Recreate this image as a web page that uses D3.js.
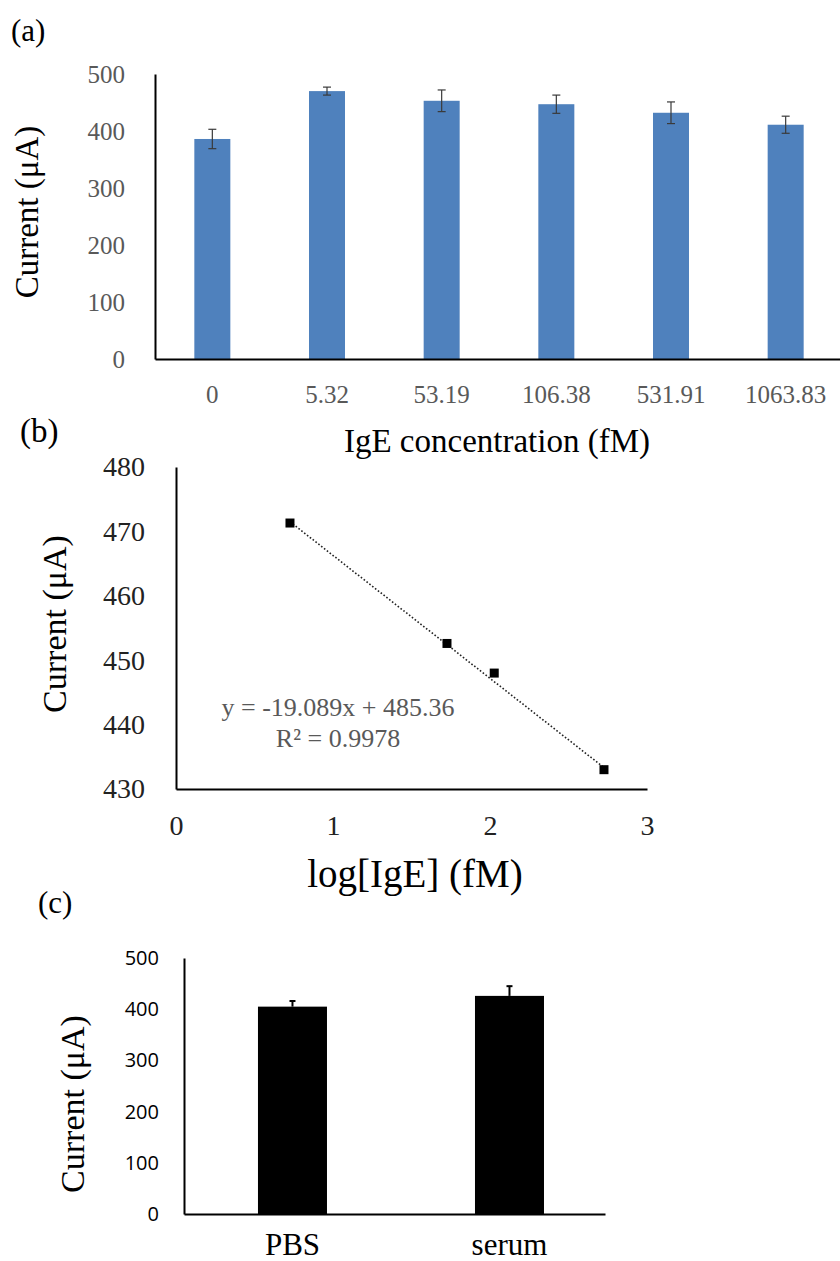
<!DOCTYPE html>
<html>
<head>
<meta charset="utf-8">
<script src="https://cdn.jsdelivr.net/npm/d3@7"></script>
<style>
  body { margin: 0; background: #fff; }
  svg text { font-family: "Liberation Serif", "Times New Roman", serif; }
  svg text.sans { font-family: "Open Sans", "DejaVu Sans", sans-serif; }
</style>
</head>
<body>
<svg id="fig" width="840" height="1261"></svg>
<script>
// (a) current vs IgE concentration
const concLabels = ["0", "5.32", "53.19", "106.38", "531.91", "1063.83"];
const concCurrent = [386, 470, 453, 447, 432, 411];
const concError = [17, 7, 19, 16, 19, 15];
const concTicks = [0, 100, 200, 300, 400, 500];

// (b) calibration, log scale
const logConc = [0.726, 1.726, 2.027, 2.726];
const logCurrent = [471.3, 452.6, 448.0, 433.0];
const fitSlope = -19.089;
const fitIntercept = 485.36;
const logXTicks = [0, 1, 2, 3];
const logYTicks = [430, 440, 450, 460, 470, 480];

// (c) PBS vs serum
const sampleLabels = ["PBS", "serum"];
const sampleCurrent = [405, 426];
const sampleError = [11, 19];
const sampleTicks = [0, 100, 200, 300, 400, 500];

const SERIF = '"Liberation Serif", "Times New Roman", serif';
const svg = d3.select("#fig");

function styleAxis(g, size, color, family) {
  g.attr("font-family", null);
  g.selectAll("text").attr("font-size", size).attr("fill", color)
    .style("font-family", family || SERIF);
  g.select(".domain").attr("stroke", "#000").attr("stroke-width", 2);
}

// ---------- panel a ----------
const xa = d3.scaleBand().domain(concLabels).range([155, 843])
  .paddingInner(0.686).paddingOuter(0.343);
const ya = d3.scaleLinear().domain([0, 500]).range([359, 74]);

const ga = svg.append("g");
ga.append("text").attr("x", 11).attr("y", 41).attr("font-size", 31).text("(a)");

ga.append("g").attr("transform", "translate(155,0)")
  .call(d3.axisLeft(ya).tickValues(concTicks).tickSize(0).tickPadding(30))
  .call(g => styleAxis(g, 25, "#595959"));

ga.selectAll("rect.bar").data(concCurrent).join("rect")
  .attr("class", "bar")
  .attr("x", (d, i) => xa(concLabels[i]))
  .attr("width", xa.bandwidth())
  .attr("y", d => ya(d))
  .attr("height", d => ya(0) - ya(d))
  .attr("fill", "#4f81bd");

const errA = ga.selectAll("g.err").data(concCurrent).join("g").attr("class", "err")
  .attr("stroke", "#3a3a3a").attr("stroke-width", 1.2);
errA.append("line")
  .attr("x1", (d, i) => xa(concLabels[i]) + xa.bandwidth() / 2)
  .attr("x2", (d, i) => xa(concLabels[i]) + xa.bandwidth() / 2)
  .attr("y1", (d, i) => ya(d + concError[i]))
  .attr("y2", (d, i) => ya(d - concError[i]));
[1, -1].forEach(s => {
  errA.append("line")
    .attr("x1", (d, i) => xa(concLabels[i]) + xa.bandwidth() / 2 - 4)
    .attr("x2", (d, i) => xa(concLabels[i]) + xa.bandwidth() / 2 + 4)
    .attr("y1", (d, i) => ya(d + s * concError[i]))
    .attr("y2", (d, i) => ya(d + s * concError[i]));
});

ga.append("g").attr("transform", "translate(0,359)")
  .call(d3.axisBottom(xa).tickSize(0).tickPadding(26))
  .call(g => styleAxis(g, 25, "#595959"));

ga.append("text").attr("transform", "translate(38,212) rotate(-90)")
  .attr("text-anchor", "middle").attr("font-size", 33).text("Current (μA)");
ga.append("text").attr("x", 497).attr("y", 452)
  .attr("text-anchor", "middle").attr("font-size", 33).text("IgE concentration (fM)");

// ---------- panel b ----------
const xb = d3.scaleLinear().domain([0, 3]).range([176, 647]);
const yb = d3.scaleLinear().domain([430, 480]).range([789, 467]);

const gb = svg.append("g");
gb.append("text").attr("x", 20).attr("y", 442).attr("font-size", 33).text("(b)");

gb.append("g").attr("transform", "translate(176,0)")
  .call(d3.axisLeft(yb).tickValues(logYTicks).tickSize(0).tickPadding(31))
  .call(g => styleAxis(g, 28, "#222"));
gb.append("g").attr("transform", "translate(0,789)")
  .call(d3.axisBottom(xb).tickValues(logXTicks).tickFormat(d3.format("d")).tickSize(0).tickPadding(26))
  .call(g => styleAxis(g, 28, "#222"));

// Excel linear trendline over the data range
const fitX = d3.extent(logConc);
gb.append("path")
  .datum(fitX)
  .attr("fill", "none").attr("stroke", "#222").attr("stroke-width", 1.6)
  .attr("stroke-dasharray", "1.6,2")
  .attr("d", d3.line().x(d => xb(d)).y(d => yb(fitSlope * d + fitIntercept)));

gb.selectAll("rect.pt").data(logConc).join("rect")
  .attr("class", "pt")
  .attr("x", d => xb(d) - 4.5)
  .attr("y", (d, i) => yb(logCurrent[i]) - 4.5)
  .attr("width", 9).attr("height", 9).attr("fill", "#000");

gb.append("text").attr("x", 338).attr("y", 716).attr("text-anchor", "middle")
  .attr("font-size", 26).attr("fill", "#595959")
  .text("y = " + fitSlope + "x + " + fitIntercept);
gb.append("text").attr("x", 338).attr("y", 747).attr("text-anchor", "middle")
  .attr("font-size", 26).attr("fill", "#595959").text("R² = 0.9978");

gb.append("text").attr("transform", "translate(66,624) rotate(-90)")
  .attr("text-anchor", "middle").attr("font-size", 34).text("Current (μA)");
gb.append("text").attr("x", 415).attr("y", 887)
  .attr("text-anchor", "middle").attr("font-size", 39).text("log[IgE] (fM)");

// ---------- panel c ----------
const xc = d3.scaleBand().domain(sampleLabels).range([184, 605])
  .paddingInner(0.682).paddingOuter(0.311).align(0.548);
const yc = d3.scaleLinear().domain([0, 500]).range([1214, 958]);

const gc = svg.append("g");
gc.append("text").attr("x", 38).attr("y", 913).attr("font-size", 31).text("(c)");

gc.append("g").attr("transform", "translate(184,0)")
  .call(d3.axisLeft(yc).tickValues(sampleTicks).tickSize(0).tickPadding(25))
  .call(g => styleAxis(g, 20, "#000", '"Open Sans", "DejaVu Sans", sans-serif'));

gc.selectAll("rect.bar").data(sampleCurrent).join("rect")
  .attr("class", "bar")
  .attr("x", (d, i) => xc(sampleLabels[i]))
  .attr("width", xc.bandwidth())
  .attr("y", d => yc(d))
  .attr("height", d => yc(0) - yc(d))
  .attr("fill", "#000");

const errC = gc.selectAll("g.err").data(sampleCurrent).join("g").attr("class", "err")
  .attr("stroke", "#000").attr("stroke-width", 2);
errC.append("line")
  .attr("x1", (d, i) => xc(sampleLabels[i]) + xc.bandwidth() / 2)
  .attr("x2", (d, i) => xc(sampleLabels[i]) + xc.bandwidth() / 2)
  .attr("y1", (d, i) => yc(d + sampleError[i]))
  .attr("y2", d => yc(d));
errC.append("line")
  .attr("x1", (d, i) => xc(sampleLabels[i]) + xc.bandwidth() / 2 - 3)
  .attr("x2", (d, i) => xc(sampleLabels[i]) + xc.bandwidth() / 2 + 3)
  .attr("y1", (d, i) => yc(d + sampleError[i]))
  .attr("y2", (d, i) => yc(d + sampleError[i]));

gc.append("g").attr("transform", "translate(0,1214)")
  .call(d3.axisBottom(xc).tickSize(0).tickPadding(19))
  .call(g => styleAxis(g, 31, "#000"));

gc.append("text").attr("transform", "translate(84,1104) rotate(-90)")
  .attr("text-anchor", "middle").attr("font-size", 34).text("Current (μA)");
</script>
</body>
</html>
